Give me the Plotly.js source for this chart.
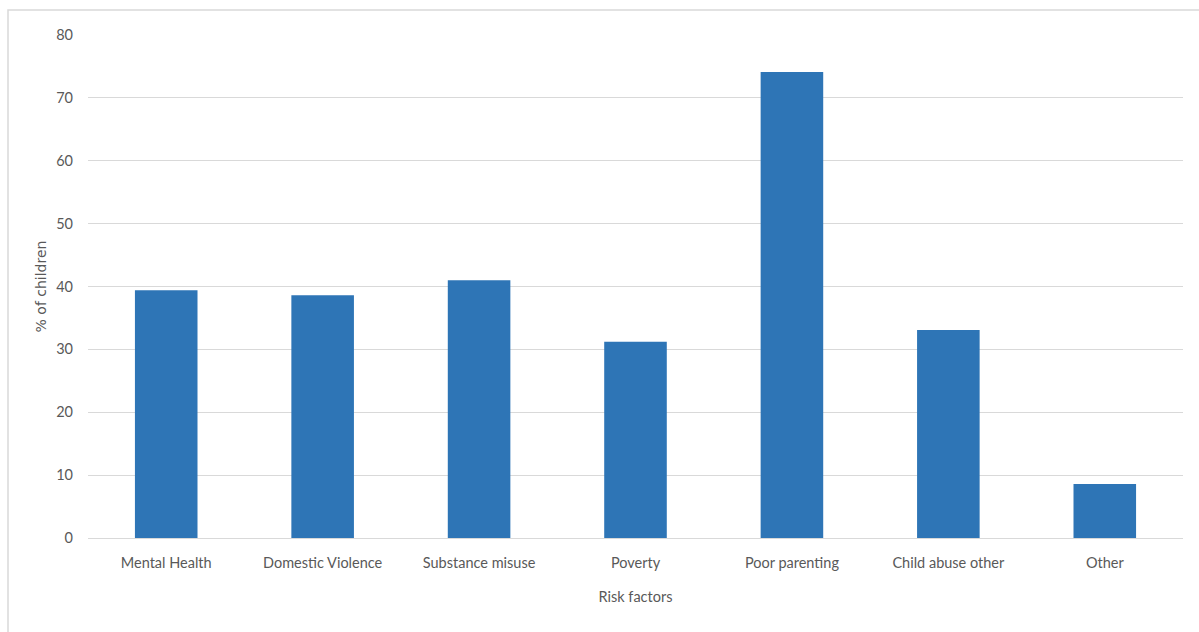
<!DOCTYPE html>
<html>
<head>
<meta charset="utf-8">
<script src="https://cdn.plot.ly/plotly-3.0.1.min.js"></script>
<style>html,body{margin:0;padding:0;background:#fff;}#chart{width:1199px;height:632px;}</style>
</head>
<body>
<div id="chart"></div>
<script>
const categories = ["Mental Health", "Domestic Violence", "Substance misuse", "Poverty", "Poor parenting", "Child abuse other", "Other"];
const values = [39.4, 38.6, 41.0, 31.2, 74.1, 33.1, 8.6];
const yTicks = [0, 10, 20, 30, 40, 50, 60, 70, 80];

const trace = {
  type: "bar",
  x: categories,
  y: values,
  marker: {color: "#2E75B6"},
  hoverinfo: "x+y"
};

const layout = {
  width: 1199,
  height: 632,
  margin: {l: 88, r: 16, t: 35, b: 94},
  paper_bgcolor: "#ffffff",
  plot_bgcolor: "#ffffff",
  bargap: 0.6,
  showlegend: false,
  font: {family: "Lato, 'Open Sans', sans-serif", color: "#595959", size: 14},
  xaxis: {
    type: "category",
    showgrid: false,
    showline: false,
    ticks: "",
    ticklabelstandoff: 14,
    tickfont: {size: 14.5, color: "#595959"},
    title: {text: "Risk factors", font: {size: 14.5, color: "#595959"}, standoff: 22}
  },
  yaxis: {
    range: [0, 80],
    tickvals: yTicks,
    ticktext: yTicks.map(String),
    showgrid: true,
    gridcolor: "#d9d9d9",
    gridwidth: 1,
    zeroline: true,
    zerolinecolor: "#d9d9d9",
    zerolinewidth: 1,
    showline: false,
    ticks: "",
    ticklabelstandoff: 14,
    tickfont: {size: 14.5, color: "#595959"},
    title: {text: "% of children", font: {family: "'DejaVu Sans', sans-serif", size: 14, color: "#595959"}, standoff: 6}
  },
  shapes: [{
    type: "rect", xref: "paper", yref: "paper",
    x0: -80/1095, x1: 1.2, y0: -0.5, y1: 1 + 25/503,
    line: {color: "#d9d9d9", width: 1.5},
    fillcolor: "rgba(0,0,0,0)",
    layer: "below"
  }]
};

Plotly.newPlot("chart", [trace], layout, {displayModeBar: false, staticPlot: true});
</script>
</body>
</html>
